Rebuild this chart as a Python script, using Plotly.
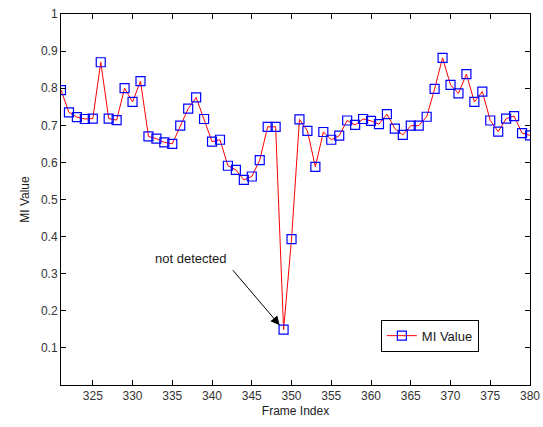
import plotly.graph_objects as go

frames = list(range(321, 381))
mi_values = [
    0.795, 0.735, 0.722, 0.717, 0.718, 0.870, 0.718, 0.714, 0.800, 0.763,
    0.819, 0.670, 0.664, 0.654, 0.650, 0.699, 0.745, 0.775, 0.717, 0.656,
    0.661, 0.591, 0.580, 0.553, 0.562, 0.606, 0.696, 0.696, 0.149, 0.393,
    0.716, 0.685, 0.588, 0.682, 0.661, 0.672, 0.713, 0.701, 0.717, 0.712,
    0.703, 0.730, 0.691, 0.674, 0.699, 0.699, 0.723, 0.798, 0.882, 0.809,
    0.786, 0.838, 0.763, 0.791, 0.713, 0.683, 0.718, 0.725, 0.679, 0.673,
]
x_ticks = list(range(325, 381, 5))
y_ticks = [0.1, 0.2, 0.3, 0.4, 0.5, 0.6, 0.7, 0.8, 0.9, 1.0]
y_tick_labels = ["0.1", "0.2", "0.3", "0.4", "0.5", "0.6", "0.7", "0.8", "0.9", "1"]
missed_frame = 349
missed_value = 0.149

font = "Liberation Sans, Arial, sans-serif"

fig = go.Figure()
fig.add_trace(go.Scatter(
    x=frames, y=mi_values, mode="lines+markers", name="MI Value",
    line=dict(color="#ff0000", width=1),
    marker=dict(symbol="square-open", size=9, color="#0000ff",
                line=dict(color="#0000ff", width=1.2)),
))

# arrow
fig.add_annotation(x=missed_frame, y=missed_value, xref="x", yref="y",
                   text="", showarrow=True, axref="pixel", ayref="pixel",
                   ax=-52, ay=-61, arrowhead=2, arrowsize=1.8, arrowwidth=1,
                   arrowcolor="#000000", standoff=6)
# label
fig.add_annotation(x=337.35, y=0.34, xref="x", yref="y", text="not detected",
                   showarrow=False, font=dict(family=font, size=13, color="#1a1a1a"))

axis_common = dict(
    showgrid=False, zeroline=False, showline=True, linecolor="#000000",
    linewidth=1, mirror="ticks", ticks="inside", ticklen=5, tickcolor="#000000",
    tickfont=dict(family=font, size=12, color="#333333"), automargin=False,
)
fig.update_xaxes(range=[321, 380], tickvals=x_ticks,
                 title=dict(text="Frame Index", font=dict(family=font, size=12, color="#1a1a1a"),
                            standoff=4),
                 **axis_common)
fig.update_yaxes(range=[0, 1], tickvals=y_ticks, ticktext=y_tick_labels,
                 title=dict(text="MI Value", font=dict(family=font, size=12, color="#1a1a1a"),
                            standoff=8),
                 **axis_common)

fig.update_layout(
    width=543, height=427,
    margin=dict(l=61, r=13, t=14, b=42),
    plot_bgcolor="#ffffff", paper_bgcolor="#ffffff",
    showlegend=True,
    legend=dict(x=0.682, y=0.176, xanchor="left", yanchor="top",
                bordercolor="#000000", borderwidth=1, bgcolor="#ffffff",
                font=dict(family=font, size=13, color="#1a1a1a"),
                tracegroupgap=0, itemwidth=30, entrywidth=88),
)

fig.write_html("out.html")
